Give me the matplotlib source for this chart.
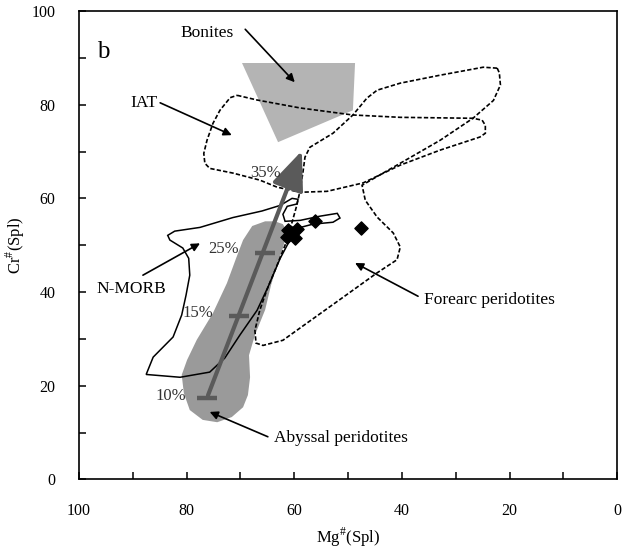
import matplotlib.pyplot as plt
from matplotlib.patches import Polygon, FancyArrowPatch

plt.rcParams['font.family'] = ['Liberation Serif', 'DejaVu Serif']
plt.rcParams['mathtext.fontset'] = 'custom'
plt.rcParams['mathtext.rm'] = 'Liberation Serif'

# field outlines (Mg#, Cr#)
bonite_mg = [69.7, 48.7, 49.1, 63.0]
bonite_cr = [88.9, 88.9, 78.8, 72.0]

iat_mg = [70.6, 66.9, 58.9, 49.1, 40.3, 26.8, 25.1, 24.5, 24.5, 25.5, 32.9, 40.3, 47.2,
          53.9, 58.9, 63.2, 66.4, 71.4, 75.7, 76.6, 76.8, 76.2, 75.1, 73.8, 71.9]
iat_cr = [82.0, 81.0, 79.3, 77.8, 77.3, 77.1, 76.7, 75.6, 73.9, 73.1, 70.3, 67.1, 63.3,
          61.5, 61.3, 62.4, 63.9, 65.4, 66.4, 67.5, 69.6, 72.4, 76.0, 78.8, 81.5]

forearc_mg = [22.3, 24.9, 32.9, 40.3, 44.6, 46.5, 49.1, 52.8, 57.1, 58.0, 58.4, 59.0, 59.5,
              60.4, 61.7, 63.4, 65.1, 66.4, 67.3, 67.1, 65.8, 62.1, 57.6, 50.9, 44.6, 40.9,
              40.3, 41.6, 44.6, 46.8, 47.4, 44.1, 40.3, 32.9, 26.8, 23.0, 21.7, 21.9]
forearc_cr = [87.8, 88.0, 86.3, 84.6, 83.1, 81.4, 77.8, 73.9, 70.9, 68.8, 65.4, 61.2, 58.6,
              54.9, 50.0, 45.1, 40.4, 36.1, 31.8, 29.1, 28.6, 29.7, 33.4, 38.9, 44.1, 46.9,
              49.6, 52.6, 56.0, 59.6, 62.8, 65.0, 67.5, 72.4, 77.1, 80.9, 84.2, 86.8]

morb_mg = [87.5, 86.2, 82.5, 80.9, 80.1, 79.4, 79.6, 80.7, 83.1, 83.5, 82.2, 77.5, 71.4,
           66.0, 62.6, 60.4, 59.3, 59.5, 61.3, 62.1, 61.7, 58.9, 55.2, 52.0, 51.5, 52.8,
           56.5, 59.5, 60.8, 62.6, 64.9, 66.9, 70.1, 72.9, 75.7, 81.2]
morb_cr = [22.4, 26.1, 30.4, 35.1, 39.3, 43.6, 47.2, 49.4, 51.1, 52.1, 53.0, 53.8, 55.9,
           57.3, 58.5, 60.0, 59.8, 58.8, 58.3, 56.6, 55.1, 55.3, 56.2, 56.8, 55.8, 54.9,
           54.5, 53.6, 51.1, 47.2, 41.0, 36.1, 30.8, 25.9, 22.9, 21.8]

abyssal_mg = [65.4, 67.8, 69.5, 70.8, 72.5, 75.1, 78.1, 79.9, 80.9, 80.5, 79.4, 77.0, 74.3,
              71.6, 69.5, 68.6, 68.2, 68.4, 67.3, 65.4, 64.3, 63.2, 62.1, 61.3, 62.1, 63.6]
abyssal_cr = [55.1, 54.1, 51.1, 47.2, 41.9, 35.5, 29.8, 25.5, 22.3, 18.4, 14.8, 12.7, 12.2,
              13.3, 15.4, 18.0, 21.8, 26.5, 30.8, 36.2, 41.5, 45.7, 49.4, 52.8, 54.5, 55.1]

# melting trend
melt_labels = ['10%', '15%', '25%', '35%']
melt_mg = [76.2, 70.3, 65.4, 60.8]
melt_cr = [17.4, 34.9, 48.3, 63.9]
trend_tip = (58.4, 70.7)

# samples
sample_mg = [61.2, 59.5, 61.3, 59.9, 60.4, 56.1, 47.6]
sample_cr = [53.2, 53.4, 51.7, 51.5, 52.6, 55.1, 53.6]

fig = plt.figure(figsize=(6.26, 5.51), dpi=100)
ax = fig.add_axes([0.126, 0.130, 0.860, 0.850])

ax.add_patch(Polygon(list(zip(bonite_mg, bonite_cr)), closed=True, fc='#b4b4b4', ec='none', zorder=1))
ax.add_patch(Polygon(list(zip(abyssal_mg, abyssal_cr)), closed=True, fc='#9a9a9a', ec='none', zorder=1))

dash = (0, (2.6, 1.3))
ax.add_patch(Polygon(list(zip(iat_mg, iat_cr)), closed=True, fill=False, ec='black', lw=1.2, ls=dash, zorder=2))
ax.add_patch(Polygon(list(zip(forearc_mg, forearc_cr)), closed=True, fill=False, ec='black', lw=1.2, ls=dash, zorder=2))
ax.add_patch(Polygon(list(zip(morb_mg, morb_cr)), closed=True, fill=False, ec='black', lw=1.1, zorder=3))

# trend arrow
ax.add_patch(FancyArrowPatch((melt_mg[0], melt_cr[0]), trend_tip,
                             arrowstyle='-|>,head_length=1.2,head_width=0.5',
                             mutation_scale=20, lw=3, color='#5a5a5a', zorder=4))
ax.plot(melt_mg, melt_cr, ls='none', marker='_', ms=14, mew=3.2, color='#5a5a5a', zorder=4)

pct_pos = [(82.9, 17.8), (77.9, 35.5), (73.2, 49.2), (65.4, 65.4)]
for lab, (x, y) in zip(melt_labels, pct_pos):
    ax.text(x, y, lab, fontsize=12, color='#333333', ha='center', va='center', zorder=5)

ax.scatter(sample_mg, sample_cr, marker='D', s=45, color='black', zorder=6)

# labels with arrows
arr = dict(arrowstyle='-|>', lw=1.2, color='black', mutation_scale=12, shrinkA=0, shrinkB=0)
ax.text(76.2, 95.3, 'Bonites', fontsize=12.5, ha='center', va='center')
ax.annotate('', xy=(59.9, 84.8), xytext=(69.1, 96.1), arrowprops=arr)
ax.text(87.9, 80.4, 'IAT', fontsize=12.5, ha='center', va='center')
ax.annotate('', xy=(71.6, 73.5), xytext=(84.9, 80.4), arrowprops=arr)
ax.text(90.3, 40.6, 'N-MORB', fontsize=12.5, ha='center', va='center')
ax.annotate('', xy=(77.5, 50.4), xytext=(88.1, 43.6), arrowprops=arr)
ax.text(35.9, 38.3, 'Forearc peridotites', fontsize=12.5, ha='left', va='center')
ax.annotate('', xy=(48.7, 46.2), xytext=(37.0, 39.1), arrowprops=arr)
ax.text(63.8, 8.8, 'Abyssal peridotites', fontsize=12.5, ha='left', va='center')
ax.annotate('', xy=(75.7, 14.4), xytext=(64.9, 9.1), arrowprops=arr)
ax.text(95.5, 91.2, 'b', fontsize=18, ha='center', va='center')

ax.set_xlim(100, 0)
ax.set_ylim(0, 100)
ax.set_xticks(range(0, 101, 10))
ax.set_xticklabels([str(v) if v % 20 == 0 else '' for v in range(0, 101, 10)])
ax.set_yticks(range(0, 101, 10))
ax.set_yticklabels([str(v) if v % 20 == 0 else '' for v in range(0, 101, 10)])
ax.tick_params(direction='in', length=5, width=1.1, labelsize=11.5, pad=17)
for s in ax.spines.values():
    s.set_linewidth(1.2)
ax.set_xlabel(r'Mg$^{\#}$(Spl)', fontsize=12, labelpad=5)
ax.set_ylabel(r'Cr$^{\#}$(Spl)', fontsize=12, labelpad=3)

fig.savefig('out.png', dpi=100)
